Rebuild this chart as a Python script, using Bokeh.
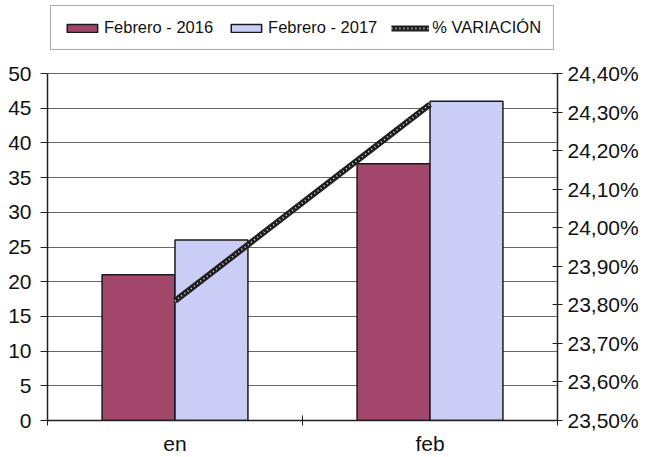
from bokeh.plotting import figure
from bokeh.models import (Range1d, LinearAxis, FixedTicker,
                          CustomJSTickFormatter, Legend, LegendItem, ColumnDataSource)
from bokeh.transform import dodge
from bokeh.embed import file_html
from bokeh.resources import INLINE

categories = ["en", "feb"]
feb_2016 = [21, 37]
feb_2017 = [26, 46]
variacion = [0.2381, 0.2432]
left_ticks = [0, 5, 10, 15, 20, 25, 30, 35, 40, 45, 50]
pct_ticks = [0.235, 0.236, 0.237, 0.238, 0.239, 0.240, 0.241, 0.242, 0.243, 0.244]
series_labels = ["Febrero - 2016", "Febrero - 2017", "% VARIACIÓN"]

FONT = "Liberation Sans"
C2016 = "#A2466B"
C2017 = "#CACDF6"

# layout: frame extends above the value axis so the legend sits inside it
Y_MAX = left_ticks[-1]
Y_TOP = Y_MAX * 417.0 / 347.0
PCT_LO, PCT_HI = pct_ticks[0], pct_ticks[-1]
PCT_TOP = PCT_LO + (PCT_HI - PCT_LO) * Y_TOP / Y_MAX

n = len(categories)
centers = [i + 0.5 for i in range(n)]
src = ColumnDataSource(dict(x=centers, a=feb_2016, b=feb_2017, v=variacion))

p = figure(width=644, height=457,
           x_range=Range1d(0, n), y_range=Range1d(0, Y_TOP),
           x_axis_location=None, y_axis_location="left",
           output_backend="svg", toolbar_location=None,
           min_border_left=47, min_border_right=87, min_border_bottom=37, min_border_top=3)
p.outline_line_color = None
p.background_fill_color = "white"
p.xgrid.visible = False

# left axis
ya = p.yaxis[0]
ya.ticker = FixedTicker(ticks=left_ticks)
ya.bounds = (0, Y_MAX)
ya.major_tick_out = 7
ya.major_tick_in = 0
ya.minor_tick_line_color = None
ya.major_label_standoff = 9
ya.major_label_text_font = FONT
ya.major_label_text_font_size = "21px"
ya.major_label_text_color = "#111111"
ya.axis_line_color = "#222222"
ya.axis_line_width = 1.5
ya.major_tick_line_color = "#222222"
p.ygrid.ticker = FixedTicker(ticks=left_ticks)
p.ygrid.grid_line_color = "#666666"
p.ygrid.grid_line_width = 1

# right axis
p.extra_y_ranges = {"pct": Range1d(PCT_LO, PCT_TOP)}
ra = LinearAxis(y_range_name="pct", ticker=FixedTicker(ticks=pct_ticks),
                formatter=CustomJSTickFormatter(code="return (tick*100).toFixed(2).replace('.', ',') + '%';"))
ra.bounds = (PCT_LO, PCT_HI)
ra.major_tick_in = 5
ra.major_tick_out = 5
ra.minor_tick_line_color = None
ra.major_label_standoff = 5
ra.major_label_text_font = FONT
ra.major_label_text_font_size = "21px"
ra.major_label_text_color = "#111111"
ra.axis_line_color = "#222222"
ra.axis_line_width = 1.5
ra.major_tick_line_color = "#222222"
p.add_layout(ra, "right")

# bottom axes: boundary ticks, then category labels
ta = LinearAxis(ticker=FixedTicker(ticks=list(range(n + 1))))
ta.major_tick_in = 5
ta.major_tick_out = 5
ta.minor_tick_line_color = None
ta.major_label_text_font_size = "1px"
ta.major_label_text_color = None
ta.major_label_standoff = 0
ta.axis_line_color = "#222222"
ta.axis_line_width = 1.5
ta.major_tick_line_color = "#222222"
p.add_layout(ta, "below")

ca = LinearAxis(ticker=FixedTicker(ticks=centers),
                major_label_overrides={c: lab for c, lab in zip(centers, categories)})
ca.axis_line_color = None
ca.major_tick_line_color = None
ca.minor_tick_line_color = None
ca.major_tick_out = 0
ca.major_tick_in = 0
ca.major_label_standoff = 6
ca.major_label_text_font = FONT
ca.major_label_text_font_size = "21px"
ca.major_label_text_color = "#111111"
p.add_layout(ca, "below")

# bars
r1 = p.vbar(x=dodge("x", -0.143), top="a", width=0.286, source=src,
            fill_color=C2016, line_color="#1a1a1a", line_width=1.5)
r2 = p.vbar(x=dodge("x", 0.143), top="b", width=0.286, source=src,
            fill_color=C2017, line_color="#1a1a1a", line_width=1.5)

# variation line
r3 = p.line(x="x", y="v", source=src, y_range_name="pct", line_color="#1e1e1e", line_width=6)
r4 = p.line(x="x", y="v", source=src, y_range_name="pct", line_color="#dddddd",
            line_width=1.8, line_dash="1 3")

legend = Legend(items=[LegendItem(label=series_labels[0], renderers=[r1]),
                       LegendItem(label=series_labels[1], renderers=[r2]),
                       LegendItem(label=series_labels[2], renderers=[r3, r4])],
                orientation="horizontal", location="top_center")
legend.glyph_width = 38
legend.glyph_height = 10
legend.label_height = 17
legend.label_standoff = 3
legend.spacing = 14
legend.padding = 12
legend.margin = 2
legend.label_text_font = FONT
legend.label_text_font_size = "16.5px"
legend.label_text_color = "#111111"
legend.border_line_color = "#555555"
legend.border_line_width = 1.2
legend.background_fill_color = "white"
legend.background_fill_alpha = 1
p.add_layout(legend, "center")

open("out.html", "w").write(file_html(p, INLINE))
